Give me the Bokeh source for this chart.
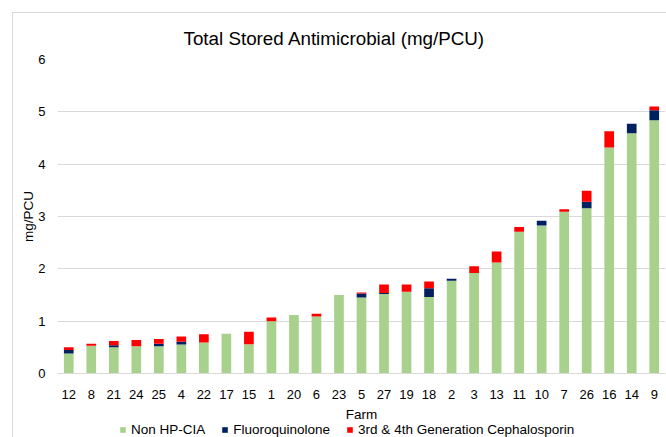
from bokeh.plotting import figure
from bokeh.layouts import column
from bokeh.models import ColumnDataSource, Legend, LegendItem, Title, InlineStyleSheet
from bokeh.embed import file_html
from bokeh.resources import INLINE

farms = ["12", "8", "21", "24", "25", "4", "22", "17", "15", "1", "20", "6", "23", "5",
         "27", "19", "18", "2", "3", "13", "11", "10", "7", "26", "16", "14", "9"]
non_hp_cia = [0.38, 0.53, 0.50, 0.52, 0.52, 0.555, 0.59, 0.76, 0.56, 1.00, 1.12, 1.09, 1.50, 1.45,
              1.52, 1.56, 1.46, 1.77, 1.92, 2.12, 2.71, 2.83, 3.09, 3.16, 4.32, 4.59, 4.84]
fluoroquinolone = [0.07, 0.0, 0.04, 0.0, 0.05, 0.05, 0.0, 0.0, 0.0, 0.0, 0.0, 0.0, 0.0, 0.08,
                   0.02, 0.0, 0.17, 0.04, 0.0, 0.0, 0.0, 0.09, 0.0, 0.12, 0.0, 0.18, 0.19]
cephalosporin = [0.05, 0.04, 0.08, 0.12, 0.09, 0.10, 0.16, 0.0, 0.24, 0.07, 0.0, 0.05, 0.0, 0.02,
                 0.16, 0.14, 0.13, 0.0, 0.13, 0.21, 0.09, 0.0, 0.05, 0.21, 0.31, 0.0, 0.07]
series = ["Non HP-CIA", "Fluoroquinolone", "3rd & 4th Generation Cephalosporin"]
colors = ["#a9d18e", "#002060", "#ff0000"]
y_ticks = [0, 1, 2, 3, 4, 5, 6]

source = ColumnDataSource(dict(farm=farms, s0=non_hp_cia, s1=fluoroquinolone, s2=cephalosporin))

FONT = "Liberation Sans"
BORDER = "#d9d9d9"

p = figure(x_range=farms, y_range=(0, 6), width=666, height=402,
           output_backend="svg", toolbar_location=None,
           min_border_left=57, min_border_right=1, min_border_top=59, min_border_bottom=29)

p.vbar_stack(["s0", "s1", "s2"], x="farm", width=0.43, color=colors,
             line_color=None, source=source)

p.add_layout(Title(text="Total Stored Antimicrobial (mg/PCU)", align="left", offset=126,
                   text_font=FONT, text_font_size="18.8px", text_font_style="normal",
                   text_color="#000000", standoff=21), "above")

p.outline_line_color = None
p.background_fill_color = "white"
p.border_fill_color = "white"

p.xgrid.grid_line_color = None
p.ygrid.grid_line_color = BORDER
p.ygrid.grid_line_width = 1

p.yaxis.ticker = y_ticks
p.yaxis.axis_line_color = None
p.yaxis.major_tick_line_color = None
p.yaxis.minor_tick_line_color = None
p.yaxis.major_tick_out = 0
p.yaxis.major_label_standoff = 12
p.yaxis.major_label_text_font = FONT
p.yaxis.major_label_text_font_size = "13px"
p.yaxis.major_label_text_color = "#000000"
p.yaxis.axis_label = "mg/PCU"
p.yaxis.axis_label_text_font = FONT
p.yaxis.axis_label_text_font_size = "13.5px"
p.yaxis.axis_label_text_font_style = "normal"
p.yaxis.axis_label_text_color = "#000000"
p.yaxis.axis_label_standoff = -1

p.xaxis.axis_line_color = BORDER
p.xaxis.major_tick_line_color = None
p.xaxis.minor_tick_line_color = None
p.xaxis.major_tick_out = 0
p.xaxis.major_tick_in = 0
p.xaxis.major_label_standoff = 16
p.xaxis.major_label_text_font = FONT
p.xaxis.major_label_text_font_size = "13px"
p.xaxis.major_label_text_color = "#000000"

# strip below the chart: x-axis title "Farm" and the legend
# (its bars lie outside the strip's visible range, they only feed the legend)
leg = figure(x_range=p.x_range, y_range=(0, 1), width=666, height=35,
             output_backend="svg", toolbar_location=None,
             x_axis_location=None, y_axis_location=None,
             min_border_left=57, min_border_right=1, min_border_top=19, min_border_bottom=0)
leg.add_layout(Title(text="Farm", align="center", text_font=FONT, text_font_size="13.5px",
                     text_font_style="normal", text_color="#000000", standoff=0), "above")
leg.outline_line_color = None
leg.xgrid.grid_line_color = None
leg.ygrid.grid_line_color = None
hidden = ColumnDataSource(dict(x=[farms[0]], top=[-2.0], bottom=[-3.0]))
leg_renderers = [leg.vbar(x="x", top="top", bottom="bottom", width=0.4, color=c,
                          line_color=None, source=hidden)
                 for c in colors]
legend = Legend(items=[LegendItem(label=s, renderers=[r]) for s, r in zip(series, leg_renderers)],
                orientation="horizontal", location=(62, 0),
                label_text_font=FONT, label_text_font_size="13.5px", label_text_color="#000000",
                glyph_width=7, glyph_height=7, label_standoff=5, spacing=16,
                padding=0, margin=0, border_line_color=None, background_fill_alpha=0,
                label_height=12)
leg.add_layout(legend, "center")

layout = column(p, leg, spacing=0)
layout.stylesheets = [InlineStyleSheet(css=(
    ":host { position: relative; }"
    ":host::after { content: ''; position: absolute; left: 12px; top: 12px; right: 0px; bottom: 0px;"
    " border-left: 1.5px solid #d9d9d9; border-top: 1.5px solid #d9d9d9;"
    " pointer-events: none; z-index: 10; }"
))]

open("out.html", "w").write(file_html(layout, INLINE))
